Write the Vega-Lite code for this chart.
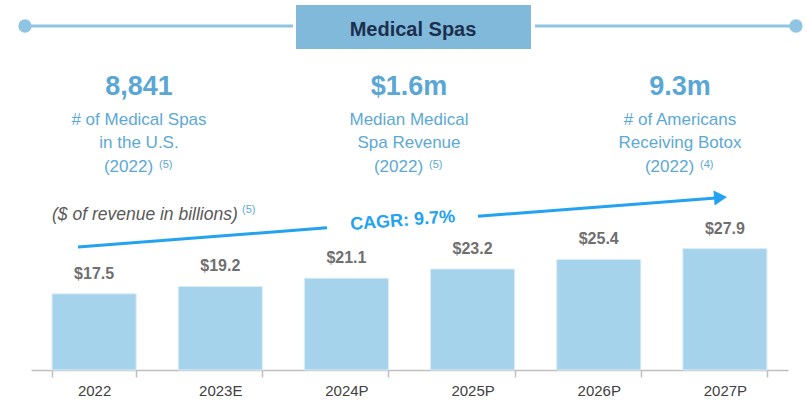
{
  "$schema": "https://vega.github.io/schema/vega-lite/v6.json",
  "width": 757,
  "height": 370,
  "autosize": {"type": "none"},
  "padding": {"left": 31, "top": 0, "right": 19, "bottom": 34},
  "background": "#ffffff",
  "config": {"view": {"stroke": null}, "font": "Liberation Sans"},
  "datasets": {
    "revenue": [
      {"year": "2022", "value": 17.5, "label": "$17.5"},
      {"year": "2023E", "value": 19.2, "label": "$19.2"},
      {"year": "2024P", "value": 21.1, "label": "$21.1"},
      {"year": "2025P", "value": 23.2, "label": "$23.2"},
      {"year": "2026P", "value": 25.4, "label": "$25.4"},
      {"year": "2027P", "value": 27.9, "label": "$27.9"}
    ],
    "headerLines": [
      {"ax": 25, "ay": 26, "ax2": 293},
      {"ax": 535, "ay": 26, "ax2": 796}
    ],
    "headerDots": [
      {"ax": 25, "ay": 26},
      {"ax": 796, "ay": 26}
    ],
    "headerBox": [{"ax": 296, "ay": 5, "ax2": 531, "ay2": 49}],
    "headerText": [{"ax": 413, "ay": 36, "text": "Medical Spas"}],
    "bigNumbers": [
      {"ax": 139, "ay": 95, "text": "8,841"},
      {"ax": 409, "ay": 95, "text": "$1.6m"},
      {"ax": 680, "ay": 95, "text": "9.3m"}
    ],
    "descLines": [
      {"ax": 139, "ay": 125, "text": "# of Medical Spas"},
      {"ax": 139, "ay": 148, "text": "in the U.S."},
      {"ax": 128.5, "ay": 172, "text": "(2022)"},
      {"ax": 409, "ay": 125, "text": "Median Medical"},
      {"ax": 409, "ay": 148, "text": "Spa Revenue"},
      {"ax": 398.5, "ay": 172, "text": "(2022)"},
      {"ax": 680, "ay": 125, "text": "# of Americans"},
      {"ax": 680, "ay": 148, "text": "Receiving Botox"},
      {"ax": 669.5, "ay": 172, "text": "(2022)"}
    ],
    "notes": [
      {"ax": 159, "ay": 168, "text": "(5)"},
      {"ax": 429, "ay": 168, "text": "(5)"},
      {"ax": 700, "ay": 168, "text": "(4)"},
      {"ax": 242, "ay": 213, "text": "(5)"}
    ],
    "caption": [{"ax": 52, "ay": 220, "text": "($ of revenue in billions)"}],
    "arrowLine": [
      {"ax": 78, "ay": 247, "ax2": 327, "ay2": 227.8},
      {"ax": 478, "ay": 216.2, "ax2": 716, "ay2": 198}
    ],
    "arrowHead": [{"ax": 720.5, "ay": 197.6}],
    "cagr": [{"ax": 403, "ay": 226, "text": "CAGR: 9.7%"}]
  },
  "resolve": {"scale": {"x": "independent", "y": "independent"}},
  "layer": [
    {
      "data": {"name": "revenue"},
      "encoding": {
        "x": {
          "field": "year",
          "type": "nominal",
          "sort": null,
          "scale": {"paddingInner": 0.333, "paddingOuter": 0.1667},
          "axis": {
            "title": null,
            "labelAngle": 0,
            "labelFont": "Liberation Sans",
            "labelFontSize": 15,
            "labelColor": "#404040",
            "labelPadding": 6,
            "domainColor": "#bfbfbf",
            "domainWidth": 1.5,
            "tickColor": "#bfbfbf",
            "tickWidth": 1.5,
            "tickSize": 7,
            "tickBand": "extent"
          }
        },
        "y": {
          "field": "value",
          "type": "quantitative",
          "scale": {"domain": [0, 85], "nice": false},
          "axis": null
        }
      },
      "layer": [
        {"mark": {"type": "bar", "color": "#a6d3ec", "stroke": "#dcedf8", "strokeWidth": 1}},
        {
          "mark": {"type": "text", "baseline": "alphabetic", "dy": -15, "font": "Liberation Sans", "fontSize": 16, "fontWeight": "bold", "color": "#6f6f6f"},
          "encoding": {"text": {"field": "label"}}
        }
      ]
    },
    {
      "encoding": {
        "x": {"field": "ax", "type": "quantitative", "scale": {"domain": [31, 788], "nice": false, "zero": false}, "axis": null},
        "y": {"field": "ay", "type": "quantitative", "scale": {"domain": [370, 0], "nice": false, "zero": false}, "axis": null}
      },
      "layer": [
        {
          "data": {"name": "headerLines"},
          "mark": {"type": "rule", "color": "#8fc4e3", "strokeWidth": 3},
          "encoding": {"x2": {"field": "ax2"}}
        },
        {
          "data": {"name": "headerDots"},
          "mark": {"type": "point", "shape": "circle", "filled": true, "size": 177, "color": "#8fc4e3", "opacity": 1}
        },
        {
          "data": {"name": "headerBox"},
          "mark": {"type": "rect", "color": "#80b9da"},
          "encoding": {"x2": {"field": "ax2"}, "y2": {"field": "ay2"}}
        },
        {
          "data": {"name": "headerText"},
          "mark": {"type": "text", "align": "center", "baseline": "alphabetic", "font": "Liberation Sans", "fontSize": 20, "fontWeight": "bold", "color": "#1c2f4f"},
          "encoding": {"text": {"field": "text"}}
        },
        {
          "data": {"name": "bigNumbers"},
          "mark": {"type": "text", "align": "center", "baseline": "alphabetic", "font": "Liberation Sans", "fontSize": 27, "fontWeight": "bold", "color": "#5aa7d5"},
          "encoding": {"text": {"field": "text"}}
        },
        {
          "data": {"name": "descLines"},
          "mark": {"type": "text", "align": "center", "baseline": "alphabetic", "font": "Liberation Sans", "fontSize": 17, "color": "#5ca9d6"},
          "encoding": {"text": {"field": "text"}}
        },
        {
          "data": {"name": "notes"},
          "mark": {"type": "text", "align": "left", "baseline": "alphabetic", "font": "Liberation Sans", "fontSize": 11, "color": "#5ca9d6"},
          "encoding": {"text": {"field": "text"}}
        },
        {
          "data": {"name": "caption"},
          "mark": {"type": "text", "align": "left", "baseline": "alphabetic", "font": "Liberation Sans", "fontSize": 17.5, "fontStyle": "italic", "color": "#595959"},
          "encoding": {"text": {"field": "text"}}
        },
        {
          "data": {"name": "arrowLine"},
          "mark": {"type": "rule", "color": "#22a2ef", "strokeWidth": 3},
          "encoding": {"x2": {"field": "ax2"}, "y2": {"field": "ay2"}}
        },
        {
          "data": {"name": "arrowHead"},
          "mark": {"type": "point", "shape": "triangle-right", "filled": true, "size": 225, "angle": -4.4, "color": "#22a2ef", "opacity": 1}
        },
        {
          "data": {"name": "cagr"},
          "mark": {"type": "text", "align": "center", "baseline": "alphabetic", "angle": -4.4, "font": "Liberation Sans", "fontSize": 18, "fontWeight": "bold", "color": "#22a2ef"},
          "encoding": {"text": {"field": "text"}}
        }
      ]
    }
  ]
}
